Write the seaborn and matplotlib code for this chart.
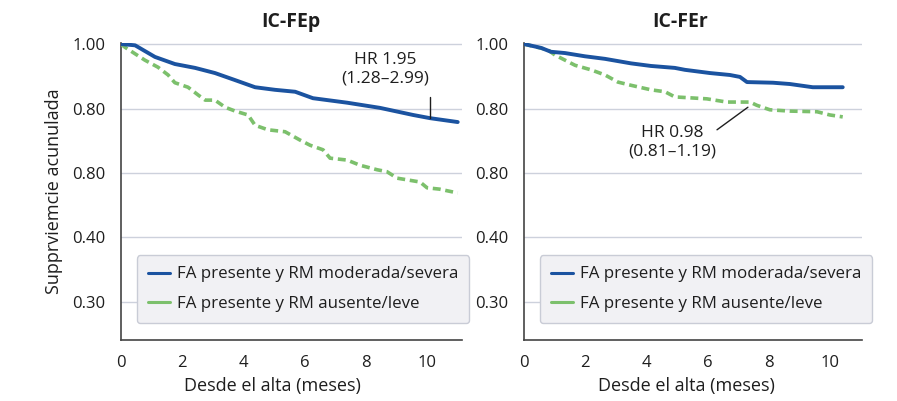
import numpy as np
import pandas as pd
import seaborn as sns
import matplotlib
matplotlib.use("Agg")
import matplotlib.pyplot as plt
from matplotlib.lines import Line2D

sns.set_style("white")
plt.rcParams['font.family'] = ['Open Sans', 'DejaVu Sans']

# ---- Data ----
titles = ["IC-FEp", "IC-FEr"]
series_labels = ["FA presente y RM moderada/severa", "FA presente y RM ausente/leve"]
ytick_vals = [1.0, 0.9, 0.8, 0.7, 0.6]
ytick_labels = ["1.00", "0.80", "0.80", "0.40", "0.30"]
xtick_vals = [0, 2, 4, 6, 8, 10]

# Panel 1 (IC-FEp)
p1_blue_t = [0, 0.46, 1.11, 1.76, 2.42, 3.07, 3.73, 4.38, 5.03, 5.69, 6.27, 7.39, 8.46, 9.54, 10.1, 11.0]
p1_blue_s = [1.0, 0.998, 0.980, 0.969, 0.963, 0.955, 0.944, 0.933, 0.929, 0.926, 0.916, 0.909, 0.901, 0.890, 0.885, 0.879]
p1_green_t = [0, 0.13, 0.78, 1.21, 1.54, 1.76, 2.19, 2.52, 2.75, 3.07, 3.40, 3.73, 4.15, 4.38, 4.80, 5.36, 5.85, 6.18,
              6.60, 6.83, 7.39, 7.81, 8.37, 8.69, 9.02, 9.77, 10.0, 10.4, 11.0]
p1_green_s = [1.0, 0.995, 0.975, 0.964, 0.952, 0.940, 0.933, 0.921, 0.913, 0.913, 0.902, 0.896, 0.890, 0.874, 0.867,
              0.864, 0.851, 0.843, 0.836, 0.823, 0.820, 0.812, 0.805, 0.802, 0.792, 0.786, 0.777, 0.775, 0.769]

# Panel 2 (IC-FEr)
p2_blue_t = [0, 0.56, 0.88, 1.34, 1.99, 2.65, 3.50, 4.15, 4.93, 5.26, 6.08, 6.73, 7.06, 7.29, 8.14, 8.69, 9.44, 10.42]
p2_blue_s = [1.0, 0.994, 0.988, 0.986, 0.981, 0.977, 0.970, 0.966, 0.963, 0.960, 0.955, 0.952, 0.949, 0.941, 0.940,
             0.938, 0.933, 0.933]
p2_green_t = [0, 0.78, 1.01, 1.34, 1.67, 2.19, 2.65, 3.07, 3.50, 4.15, 4.61, 4.93, 5.98, 6.63, 7.39, 7.61, 8.04, 8.69,
              9.58, 10.0, 10.42]
p2_green_s = [1.0, 0.991, 0.983, 0.975, 0.967, 0.960, 0.952, 0.941, 0.936, 0.929, 0.926, 0.918, 0.915, 0.910,
              0.910, 0.905, 0.898, 0.896, 0.895, 0.890, 0.887]

hr_texts = ["HR 1.95\n(1.28\u20132.99)", "HR 0.98\n(0.81\u20131.19)"]

BLUE = "#1b53a0"
GREEN = "#7cc06c"
GRID = "#cdd1dc"
SPINE = "#444444"
TXT = "#1e1e1e"

fig = plt.figure(figsize=(8.97, 4.01), dpi=100)
W, H = 897, 401

def ax_rect(l, r, t, b):
    return [l / W, 1 - b / H, (r - l) / W, (b - t) / H]

lefts, rights = [121, 524], [462, 862]
axes = [fig.add_axes(ax_rect(lefts[i], rights[i], 43, 340)) for i in range(2)]
xlims = [11.14, 11.05]
xlabel_x = [0.443, 0.482]
leg_x = [137, 540]

data = [
    ((p1_blue_t, p1_blue_s), (p1_green_t, p1_green_s)),
    ((p2_blue_t, p2_blue_s), (p2_green_t, p2_green_s)),
]

for i, ax in enumerate(axes):
    (bt, bs), (gt, gs) = data[i]
    dfb = pd.DataFrame({"t": bt, "s": bs})
    dfg = pd.DataFrame({"t": gt, "s": gs})
    for yv in ytick_vals:
        ax.axhline(yv, color=GRID, lw=1.0, zorder=0)
    sns.lineplot(data=dfg, x="t", y="s", ax=ax, estimator=None, sort=False,
                 color=GREEN, lw=2.6, linestyle=(0, (2.2, 1.3)), zorder=3)
    sns.lineplot(data=dfb, x="t", y="s", ax=ax, estimator=None, sort=False,
                 color=BLUE, lw=2.8, zorder=4)
    ax.set_xlim(0, xlims[i])
    ax.set_ylim(0.541, 1.0016)
    ax.set_yticks(ytick_vals)
    ax.set_yticklabels(ytick_labels)
    ax.set_xticks(xtick_vals)
    ax.set_xticklabels([str(v) for v in xtick_vals])
    ax.tick_params(axis="both", direction="out", length=5, width=1, color=SPINE, labelsize=12,
                   labelcolor=TXT, pad=6)
    for side in ["top", "right"]:
        ax.spines[side].set_visible(False)
    for side in ["left", "bottom"]:
        ax.spines[side].set_color(SPINE)
        ax.spines[side].set_linewidth(1.2)
    ax.set_xlabel("Desde el alta (meses)", fontsize=13, color=TXT)
    ax.xaxis.set_label_coords(xlabel_x[i], -0.125)
    ax.set_ylabel("")
    handles = [Line2D([], [], color=BLUE, lw=2.2), Line2D([], [], color=GREEN, lw=2.2)]
    leg = ax.legend(handles, series_labels, loc="lower left",
                    bbox_to_anchor=((leg_x[i] - lefts[i]) / (rights[i] - lefts[i]), (340 - 323) / 297),
                    fontsize=12.2, frameon=True, fancybox=True, handlelength=1.3, handletextpad=0.4,
                    borderpad=0.65, labelspacing=0.8, borderaxespad=0)
    leg.get_frame().set_facecolor("#f1f1f4")
    leg.get_frame().set_edgecolor("#c9ccd6")
    leg.get_frame().set_alpha(1)
    for t in leg.get_texts():
        t.set_color(TXT)

axes[0].set_ylabel("Supprviemcie acunulada", fontsize=13, color=TXT)
axes[0].yaxis.set_label_coords(-0.17, 0.5)

# Titles
fig.text(291 / W, 1 - 22 / H, titles[0], ha="center", va="center", fontsize=14, fontweight="bold", color=TXT)
fig.text(680 / W, 1 - 22 / H, titles[1], ha="center", va="center", fontsize=14, fontweight="bold", color=TXT)

# HR annotations
axes[0].text(8.63, 0.961, hr_texts[0], ha="center", va="center", fontsize=12.5, color=TXT, linespacing=1.25)
axes[0].plot([10.1, 10.1], [0.918, 0.886], color=TXT, lw=1.0, zorder=5)
axes[1].text(4.84, 0.848, hr_texts[1], ha="center", va="center", fontsize=12.5, color=TXT, linespacing=1.25)
axes[1].plot([6.31, 7.32], [0.867, 0.902], color=TXT, lw=1.0, zorder=5)

fig.savefig("out.png", dpi=100, facecolor="white")
